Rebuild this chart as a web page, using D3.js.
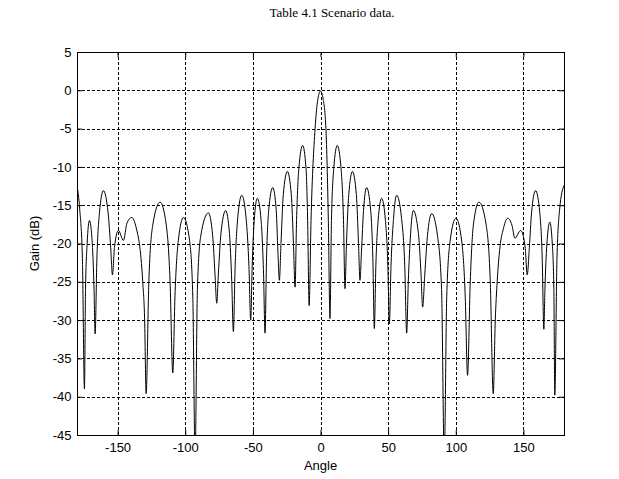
<!DOCTYPE html>
<html>
<head>
<meta charset="utf-8">
<script src="https://cdn.jsdelivr.net/npm/d3@7"></script>
<style>
  body { margin: 0; background: #fff; }
  text { font-family: "Liberation Sans", Arial, sans-serif; }
</style>
</head>
<body>
<svg></svg>
<script>
// pattern samples (angle in degrees, gain in dB)
var angles = [
  -180, -178, -176, -174.5, -173.7, -172.5, -170.8, -168.7, -167.4, -166.6,
  -165.3, -163.4, -160.5, -157, -155.1, -153.8, -152.3, -149.4, -145.7, -143,
  -139.5, -135.5, -133.9, -131.4, -130, -128.9, -126.9, -124, -118.6, -114,
  -111.2, -109.2, -107.6, -105.1, -101.3, -96.8, -94.4, -92.7, -91, -88.5,
  -82.9, -79.7, -78, -76.7, -75.5, -73.6, -70.1, -67.3, -65.6, -64.4,
  -63.1, -61.2, -58.2, -55, -52.9, -51.6, -50.5, -49, -46.7, -43.9,
  -42.1, -41, -39.9, -38.3, -35.3, -32.7, -31.5, -30.4, -29.2, -27.5,
  -24.5, -21.6, -20, -18.8, -17.7, -16, -13.2, -10.7, -9.5, -8.4,
  -7, -4, -2, 0, 2, 4, 5.8, 7, 8.1, 9.8,
  12.4, 15.2, 17, 18.1, 19.2, 20.9, 23.6, 26.5, 28.1, 29.2,
  30.3, 31.8, 34.1, 37.1, 38.7, 39.8, 40.9, 42.6, 45.2, 48,
  49.8, 50.9, 52.1, 54, 56.3, 59.9, 62.3, 63.7, 64.9, 66.6,
  68.6, 72.4, 74.3, 75.5, 77.1, 79, 82.2, 86.5, 89.5, 91.5,
  93.3, 95.8, 100.1, 104.4, 107, 108.7, 110.7, 113, 117.1, 122.5,
  125.5, 127.7, 129.2, 130.6, 133, 135, 138.3, 141.5, 143.7, 147.9,
  151.2, 152.8, 154.4, 156, 159, 162.1, 163.9, 165.1, 165.9, 167.3,
  169.5, 171.4, 172.5, 173.2, 174.8, 176.8, 180
];
var gains = [
  -12.4, -15.5, -22, -39, -26, -20, -17, -20, -26, -31.8,
  -22, -16, -13.1, -16, -20.5, -24.1, -20.5, -18.3, -19.6, -17.3,
  -16.6, -18.5, -20, -25, -30, -39.6, -25, -17.6, -14.6, -17.6,
  -25, -36.9, -27, -19.6, -16.6, -19.6, -27, -48, -26, -19,
  -16, -19, -24, -27.8, -24, -18.7, -15.7, -18.7, -25, -31.5,
  -23, -16.7, -13.7, -16.7, -23, -30, -23, -17, -14.1, -17,
  -24, -31.7, -22, -15.7, -12.7, -15.7, -21, -24.8, -20, -13.6,
  -10.6, -13.6, -20, -25.7, -17, -10.2, -7.2, -10.2, -17, -28.1,
  -17, -5, -1.2, -0.1, -1.2, -5, -17, -29.8, -17, -10.2,
  -7.2, -10.2, -17, -25.9, -20, -13.6, -10.6, -13.6, -20, -24.8,
  -21, -15.7, -12.7, -15.7, -22, -31.1, -23, -17, -14.1, -17,
  -23, -30.5, -23, -16.7, -13.7, -16.7, -23, -31.7, -25, -18.7,
  -15.7, -18.7, -24, -28.3, -24, -19.1, -16.1, -19, -26, -48,
  -27, -19.7, -16.7, -19.7, -27, -37.2, -25, -17.6, -14.6, -17.6,
  -25, -39.6, -30, -25, -20, -18.2, -16.7, -17.6, -19.3, -18.3,
  -20.3, -24.1, -20.5, -16, -13.1, -16, -22, -31.2, -26, -20.2,
  -17.2, -20.2, -26, -39.8, -22, -15.5, -12.4
];

// tick values for the axes
var xTicks = [-150, -100, -50, 0, 50, 100, 150];
var yTicks = [-45, -40, -35, -30, -25, -20, -15, -10, -5, 0, 5];

var svgWidth = 619, svgHeight = 479;
var plotLeft = 77, plotRight = 564, plotTop = 52, plotBottom = 435;

var svg = d3.select("svg")
    .attr("width", svgWidth)
    .attr("height", svgHeight);

//scales for the plot box
var xScale = d3.scaleLinear()
    .domain([-180, 180])
    .range([plotLeft, plotRight]);

var yScale = d3.scaleLinear()
    .domain([-45, 5])
    .range([plotBottom, plotTop]);

//dotted grid
var grid = svg.append("g")
    .attr("stroke", "#000")
    .attr("stroke-width", 1)
    .attr("stroke-dasharray", "3,2")
    .attr("shape-rendering", "crispEdges");

grid.selectAll(".gx")
    .data(xTicks)
    .enter().append("line")
    .attr("x1", d => Math.round(xScale(d)) + 0.5)
    .attr("x2", d => Math.round(xScale(d)) + 0.5)
    .attr("y1", plotTop)
    .attr("y2", plotBottom);

grid.selectAll(".gy")
    .data(yTicks.slice(1, -1))
    .enter().append("line")
    .attr("x1", plotLeft)
    .attr("x2", plotRight)
    .attr("y1", d => Math.round(yScale(d)) + 0.5)
    .attr("y2", d => Math.round(yScale(d)) + 0.5);

//clip so the deep nulls stop at the bottom edge
svg.append("clipPath")
    .attr("id", "plotclip")
    .append("rect")
    .attr("x", plotLeft)
    .attr("y", plotTop)
    .attr("width", plotRight - plotLeft)
    .attr("height", plotBottom - plotTop);

var line = d3.line()
    .x((d, i) => xScale(angles[i]))
    .y(d => yScale(d))
    .curve(d3.curveMonotoneX);

svg.append("path")
    .datum(gains)
    .attr("clip-path", "url(#plotclip)")
    .attr("fill", "none")
    .attr("stroke", "#000")
    .attr("stroke-width", 1)
    .attr("d", line);

//axes, ticks pointing inward like the original
var fmt = d => String(d);

var x_axis = d3.axisBottom(xScale).tickValues(xTicks).tickSizeInner(-5).tickSizeOuter(0).tickPadding(8).tickFormat(fmt);
var y_axis = d3.axisLeft(yScale).tickValues(yTicks).tickSizeInner(-5).tickSizeOuter(0).tickPadding(5.5).tickFormat(fmt);
var x_top = d3.axisTop(xScale).tickValues(xTicks).tickSizeInner(-5).tickSizeOuter(0).tickFormat("");
var y_right = d3.axisRight(yScale).tickValues(yTicks).tickSizeInner(-5).tickSizeOuter(0).tickFormat("");

function styleAxis(g) {
  g.select(".domain").remove();
  g.selectAll("text")
    .attr("fill", "#000")
    .style("font-size", "13px");
  g.selectAll("line").attr("stroke", "#000");
}

svg.append("g").attr("transform", "translate(0," + plotBottom + ")").call(x_axis).call(styleAxis);
svg.append("g").attr("transform", "translate(" + plotLeft + ",0)").call(y_axis).call(styleAxis);
svg.append("g").attr("transform", "translate(0," + plotTop + ")").call(x_top).call(styleAxis);
svg.append("g").attr("transform", "translate(" + plotRight + ",0)").call(y_right).call(styleAxis);

//box around the plot
svg.append("rect")
    .attr("x", plotLeft + 0.5)
    .attr("y", plotTop + 0.5)
    .attr("width", plotRight - plotLeft)
    .attr("height", plotBottom - plotTop)
    .attr("fill", "none")
    .attr("stroke", "#000")
    .attr("stroke-width", 1);

//labels
svg.append("text")
    .attr("x", (plotLeft + plotRight) / 2)
    .attr("y", 470)
    .attr("text-anchor", "middle")
    .style("font-size", "13px")
    .text("Angle");

svg.append("text")
    .attr("transform", "translate(39," + (plotTop + plotBottom) / 2 + ") rotate(-90)")
    .attr("text-anchor", "middle")
    .style("font-size", "13px")
    .text("Gain (dB)");

svg.append("text")
    .attr("x", 332)
    .attr("y", 17)
    .attr("text-anchor", "middle")
    .style("font-family", "'Liberation Serif', 'Times New Roman', serif")
    .style("font-size", "13px")
    .text("Table 4.1 Scenario data.");
</script>
</body>
</html>
